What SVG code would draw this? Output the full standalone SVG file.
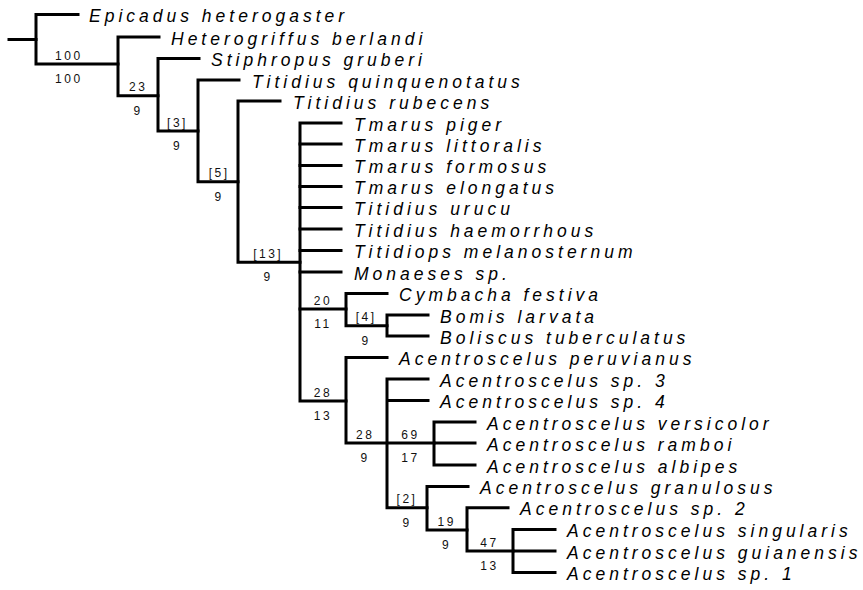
<svg xmlns="http://www.w3.org/2000/svg" width="863" height="590" viewBox="0 0 863 590">
<style>
.br{fill:none;stroke:#000;stroke-width:3;stroke-linejoin:miter;stroke-linecap:square}
.sp{font-family:"Liberation Sans",Arial,sans-serif;font-style:italic;font-size:17.5px;letter-spacing:4px;fill:#000}
.nm{font-family:"Liberation Sans",Arial,sans-serif;font-size:12px;letter-spacing:2.5px;fill:#111;text-anchor:middle}
</style>
<rect width="863" height="590" fill="#fff"/>
<g id="connectors" class="br">
<path d="M9 39.5 H36"/>
<path d="M78 14.5 H36 V64 H118"/>
<path d="M159 37 H118 V95.7 H158"/>
<path d="M199 58.5 H158 V131 H198"/>
<path d="M239 80 H198 V181.7 H238"/>
<path d="M280 101 H238 V262.3 H300"/>
<path d="M341 123 H300 V401 H346"/>
<path d="M300 144 H341 M300 165.5 H341 M300 186.5 H341 M300 207.5 H341 M300 229 H341 M300 250.5 H341 M300 272 H341 M300 309 H346"/>
<path d="M387 293.5 H346 V325.7 H387"/>
<path d="M428 315 H387 V336 H428"/>
<path d="M387 357.5 H346 V443 H434"/>
<path d="M428 379 H387 V507.7 H427 M387 400.5 H428"/>
<path d="M475 422 H434 V465 H475 M434 443 H475"/>
<path d="M468 486.5 H427 V530 H467"/>
<path d="M508 507.7 H467 V551 H513"/>
<path d="M555 529.5 H513 V572.5 H555 M513 551 H555"/>
</g>
<g id="leaf-epicadus"><text class="sp" x="89" y="22">Epicadus heterogaster</text></g>
<g id="leaf-heterogriffus"><text class="sp" x="171" y="44.5">Heterogriffus berlandi</text></g>
<g id="leaf-stiphropus"><text class="sp" x="211" y="66">Stiphropus gruberi</text></g>
<g id="leaf-titidius-q"><text class="sp" x="252" y="87.5">Titidius quinquenotatus</text></g>
<g id="leaf-titidius-r"><text class="sp" x="293" y="108.5">Titidius rubecens</text></g>
<g id="leaf-tmarus-piger"><text class="sp" x="354" y="130.5">Tmarus piger</text></g>
<g id="leaf-tmarus-littoralis"><text class="sp" x="354" y="151.5">Tmarus littoralis</text></g>
<g id="leaf-tmarus-formosus"><text class="sp" x="354" y="173">Tmarus formosus</text></g>
<g id="leaf-tmarus-elongatus"><text class="sp" x="354" y="194">Tmarus elongatus</text></g>
<g id="leaf-titidius-urucu"><text class="sp" x="354" y="215">Titidius urucu</text></g>
<g id="leaf-titidius-haemorrhous"><text class="sp" x="354" y="236.5">Titidius haemorrhous</text></g>
<g id="leaf-titidiops"><text class="sp" x="354" y="258">Titidiops melanosternum</text></g>
<g id="leaf-monaeses"><text class="sp" x="354" y="279.5">Monaeses sp.</text></g>
<g id="leaf-cymbacha"><text class="sp" x="399" y="301">Cymbacha festiva</text></g>
<g id="leaf-bomis"><text class="sp" x="440" y="322.5">Bomis larvata</text></g>
<g id="leaf-boliscus"><text class="sp" x="440" y="343.5">Boliscus tuberculatus</text></g>
<g id="leaf-a-peruvianus"><text class="sp" x="399" y="365">Acentroscelus peruvianus</text></g>
<g id="leaf-a-sp3"><text class="sp" x="440" y="386.5">Acentroscelus sp. 3</text></g>
<g id="leaf-a-sp4"><text class="sp" x="440" y="408">Acentroscelus sp. 4</text></g>
<g id="leaf-a-versicolor"><text class="sp" x="487" y="429.5">Acentroscelus versicolor</text></g>
<g id="leaf-a-ramboi"><text class="sp" x="487" y="450.5">Acentroscelus ramboi</text></g>
<g id="leaf-a-albipes"><text class="sp" x="487" y="472.5">Acentroscelus albipes</text></g>
<g id="leaf-a-granulosus"><text class="sp" x="480" y="494">Acentroscelus granulosus</text></g>
<g id="leaf-a-sp2"><text class="sp" x="520" y="515">Acentroscelus sp. 2</text></g>
<g id="leaf-a-singularis"><text class="sp" x="567" y="537">Acentroscelus singularis</text></g>
<g id="leaf-a-guianensis"><text class="sp" x="567" y="558.5">Acentroscelus guianensis</text></g>
<g id="leaf-a-sp1"><text class="sp" x="567" y="580">Acentroscelus sp. 1</text></g>
<g id="node-1"><text class="nm" x="68.8" y="59.5">100</text><text class="nm" x="68.8" y="83">100</text></g>
<g id="node-2"><text class="nm" x="138.2" y="91.2">23</text><text class="nm" x="138.2" y="114.7">9</text></g>
<g id="node-3"><text class="nm" x="177.5" y="126.5">[3]</text><text class="nm" x="177.5" y="150">9</text></g>
<g id="node-4"><text class="nm" x="219.2" y="177.2">[5]</text><text class="nm" x="219.2" y="200.7">9</text></g>
<g id="node-5"><text class="nm" x="268.2" y="257.8">[13]</text><text class="nm" x="268.2" y="281.3">9</text></g>
<g id="node-6"><text class="nm" x="323" y="304.5">20</text><text class="nm" x="323" y="328">11</text></g>
<g id="node-7"><text class="nm" x="366.2" y="321.2">[4]</text><text class="nm" x="366.2" y="344.7">9</text></g>
<g id="node-8"><text class="nm" x="323" y="396.5">28</text><text class="nm" x="323" y="420">13</text></g>
<g id="node-9"><text class="nm" x="365.2" y="438.5">28</text><text class="nm" x="365.2" y="462">9</text></g>
<g id="node-10"><text class="nm" x="410.5" y="438.5">69</text><text class="nm" x="410.5" y="462">17</text></g>
<g id="node-11"><text class="nm" x="407" y="503.2">[2]</text><text class="nm" x="407" y="526.7">9</text></g>
<g id="node-12"><text class="nm" x="446.7" y="525.5">19</text><text class="nm" x="446.7" y="549">9</text></g>
<g id="node-13"><text class="nm" x="489.5" y="546.5">47</text><text class="nm" x="489.5" y="570">13</text></g>
</svg>
